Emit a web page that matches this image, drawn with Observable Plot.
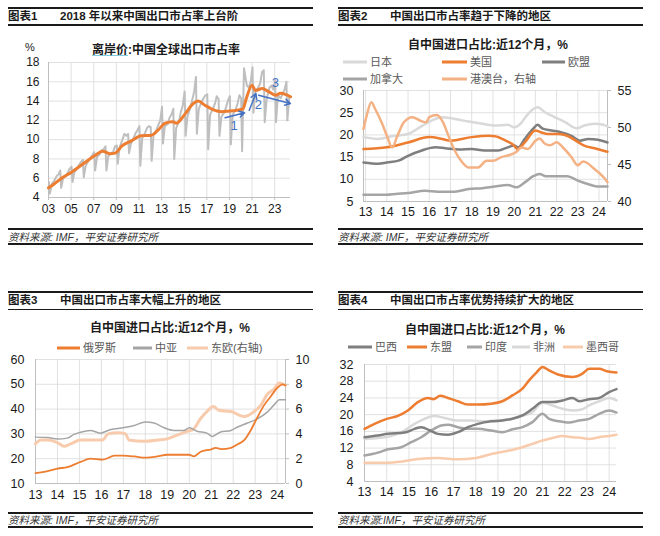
<!DOCTYPE html>
<html><head><meta charset="utf-8">
<script src="https://cdn.jsdelivr.net/npm/d3@7"></script>
<script src="https://cdn.jsdelivr.net/npm/@observablehq/plot@0.6"></script>
<style>
html,body{margin:0;padding:0;background:#fff;}
#root{position:relative;width:660px;height:536px;overflow:hidden;font-family:"Liberation Sans","Noto Sans CJK SC",sans-serif;color:#1a1a1a;}
.rule{position:absolute;height:1.6px;background:#1a1a1a;}
.t{position:absolute;white-space:nowrap;line-height:1;}
.hdr{font-weight:bold;font-size:11.5px;transform:translateY(-50%);}
.ct{font-weight:bold;font-size:12px;transform:translate(-50%,-50%);}
.src{font-style:italic;font-size:10.5px;color:#333;transform:translateY(-50%);}
.leg{font-size:11px;color:#595959;transform:translateY(-50%);}
.sw{position:absolute;height:3px;transform:translateY(-50%);}
#root svg{position:absolute;}
</style></head><body><div id="root"></div>
<script>
// ================= DATA =================
const figLabels = ["图表1", "图表2", "图表3", "图表4"];
const headers = ["2018 年以来中国出口市占率上台阶", "中国出口市占率趋于下降的地区", "中国出口市占率大幅上升的地区", "中国出口市占率优势持续扩大的地区"];
const sources = ["资料来源: IMF，平安证券研究所", "资料来源: IMF，平安证券研究所", "资料来源: IMF，平安证券研究所", "资料来源:IMF，平安证券研究所"];
const p1TitleMarked = "离岸价";
const p1TitleRest = ":中国全球出口市占率";
const p1Unit = "%";
const importTitle = "自中国进口占比:近12个月，%";

// Panel 1
const p1YTicks = [4, 6, 8, 10, 12, 14, 16, 18];
const p1XTicks = [2003, 2005, 2007, 2009, 2011, 2013, 2015, 2017, 2019, 2021, 2023];
const p1Orange = [[2003.0,5.0],[2003.5,5.4],[2004.1,5.95],[2005.0,6.6],[2006.2,7.6],[2007.1,8.35],[2007.8,8.8],[2008.4,8.55],[2008.9,8.6],[2009.5,9.35],[2010.3,9.85],[2011.2,10.4],[2012.1,10.45],[2012.7,11.0],[2013.3,11.7],[2014.0,11.85],[2014.3,11.7],[2015.1,12.7],[2015.8,13.75],[2016.25,14.0],[2016.8,13.6],[2017.4,13.2],[2018.3,12.9],[2018.9,12.95],[2019.65,13.05],[2020.2,13.2],[2020.5,14.3],[2021.0,15.65],[2021.3,15.1],[2021.9,15.3],[2022.5,14.95],[2023.1,14.6],[2023.5,14.8],[2023.95,14.7],[2024.4,14.45]];
const p1GrayMonths = [0.04, 0.12, 0.29, 0.54, 0.71, 0.88];
const p1GrayByYear = [
  [2003, [5.6, 4.4, 5.4, 5.8, 6.2, 6.4]],
  [2004, [6.8, 5.0, 6.0, 6.2, 6.6, 7.0]],
  [2005, [7.2, 5.6, 6.6, 7.0, 7.4, 7.7]],
  [2006, [7.9, 6.1, 7.3, 7.8, 8.1, 8.4]],
  [2007, [8.7, 6.8, 8.2, 8.5, 8.9, 9.0]],
  [2008, [9.3, 6.8, 8.3, 8.6, 8.7, 9.3]],
  [2009, [9.4, 7.5, 9.2, 10.0, 10.6, 10.4]],
  [2010, [10.6, 8.6, 9.6, 10.2, 10.7, 11.0]],
  [2011, [11.4, 7.3, 10.2, 10.7, 11.2, 11.4]],
  [2012, [11.3, 7.8, 10.5, 11.0, 11.5, 12.0]],
  [2013, [13.4, 9.6, 11.4, 11.6, 12.3, 12.6]],
  [2014, [13.2, 8.0, 11.2, 11.9, 12.9, 13.6]],
  [2015, [15.0, 10.4, 12.4, 13.3, 14.1, 15.0]],
  [2016, [16.5, 10.6, 13.2, 13.9, 14.3, 14.6]],
  [2017, [14.7, 9.0, 12.6, 13.2, 13.7, 14.5]],
  [2018, [14.2, 10.4, 12.4, 12.8, 13.4, 14.1]],
  [2019, [14.5, 9.5, 12.6, 13.1, 13.7, 14.6]],
  [2020, [14.3, 8.8, 17.4, 15.6, 15.4, 16.0]],
  [2021, [17.5, 12.8, 15.0, 15.4, 15.8, 17.0]],
  [2022, [17.2, 11.8, 14.2, 15.4, 15.6, 15.2]],
  [2023, [16.2, 11.8, 14.6, 14.3, 14.8, 15.2]],
  [2024, [16.0, 12.0, 14.4]]
];
const p1Arrows = [
  {x1: 2018.62, y1: 12.26, x2: 2020.34, y2: 12.78},
  {x1: 2020.75, y1: 13.05, x2: 2021.34, y2: 14.78},
  {x1: 2021.58, y1: 14.6, x2: 2024.39, y2: 13.74}
];
const p1ArrowLabels = [
  {x: 2019.42, y: 11.45, text: "1"},
  {x: 2021.55, y: 13.6, text: "2"},
  {x: 2023.06, y: 15.9, text: "3"}
];

// Panel 2
const p2Names = ["日本", "美国", "欧盟", "加拿大", "港澳台，右轴"];
const p2LeftTicks = [5, 10, 15, 20, 25, 30];
const p2RightTicks = [40, 45, 50, 55];
const yearTicks = [2013, 2014, 2015, 2016, 2017, 2018, 2019, 2020, 2021, 2022, 2023, 2024];
const p2Japan = [[2012.9,19.5],[2013.6,19.1],[2014.25,19.7],[2015.0,20.2],[2015.55,21.7],[2016.1,23.2],[2016.6,24.0],[2017.2,23.6],[2017.85,23.0],[2018.5,22.5],[2019.1,22.1],[2019.7,22.3],[2020.0,21.7],[2020.3,22.5],[2020.65,24.7],[2021.1,26.2],[2021.45,25.1],[2021.9,24.0],[2022.4,22.9],[2022.95,21.5],[2023.3,22.1],[2023.8,22.5],[2024.2,22.3],[2024.4,21.9]];
const p2US = [[2012.9,16.8],[2014.0,17.2],[2015.0,18.3],[2016.0,19.5],[2016.6,19.1],[2017.0,18.7],[2018.0,19.5],[2018.8,19.8],[2019.1,19.7],[2019.6,18.7],[2020.0,17.6],[2020.15,16.8],[2020.5,18.3],[2021.0,21.0],[2021.25,20.6],[2021.6,20.2],[2022.1,20.2],[2022.5,19.8],[2022.9,18.7],[2023.3,17.6],[2023.8,17.0],[2024.4,16.2]];
const p2EU = [[2012.9,13.8],[2013.6,13.5],[2014.0,13.8],[2014.55,14.2],[2015.0,15.3],[2015.65,16.5],[2016.3,17.2],[2016.75,17.0],[2017.4,16.7],[2018.0,16.8],[2018.6,16.5],[2019.25,16.5],[2019.7,17.2],[2020.0,17.6],[2020.2,17.2],[2020.5,19.1],[2020.9,21.4],[2021.1,22.3],[2021.35,21.4],[2021.75,21.0],[2022.2,20.6],[2022.7,19.8],[2023.1,18.7],[2023.5,19.1],[2023.95,18.9],[2024.4,18.3]];
const p2Canada = [[2012.9,6.5],[2014.0,6.5],[2014.4,6.7],[2015.0,6.9],[2015.8,7.4],[2016.4,7.2],[2017.2,7.2],[2017.85,7.8],[2018.5,8.0],[2019.1,8.4],[2019.7,8.7],[2020.1,8.2],[2020.5,9.3],[2020.9,10.7],[2021.2,11.2],[2021.5,10.7],[2022.1,10.7],[2022.5,10.7],[2023.0,9.7],[2023.5,8.9],[2023.9,8.4],[2024.4,8.4]];
const p2HKMOTW = [[2012.9,49.8],[2013.05,51.6],[2013.27,53.4],[2013.45,52.5],[2013.75,50.7],[2014.0,48.9],[2014.25,47.3],[2014.5,48.9],[2014.8,50.7],[2015.2,51.4],[2015.6,50.9],[2015.85,50.7],[2016.0,51.4],[2016.35,51.7],[2016.65,50.7],[2016.9,48.9],[2017.2,46.9],[2017.5,45.5],[2017.85,44.6],[2018.3,44.6],[2018.7,45.5],[2019.0,45.5],[2019.4,46.0],[2019.9,46.4],[2020.1,46.7],[2020.35,47.3],[2020.65,47.1],[2021.0,48.2],[2021.2,48.5],[2021.45,47.8],[2021.7,47.6],[2022.0,48.0],[2022.3,47.3],[2022.7,46.0],[2023.0,44.9],[2023.25,45.4],[2023.45,45.2],[2023.7,44.6],[2023.95,44.0],[2024.27,43.1],[2024.4,42.6]];

// Panel 3
const p3Names = ["俄罗斯", "中亚", "东欧(右轴)"];
const p3LeftTicks = [10, 20, 30, 40, 50, 60];
const p3RightTicks = [0, 2, 4, 6, 8, 10];
const p3Russia = [[2013.0,14.2],[2013.55,15.0],[2014.0,16.0],[2014.45,16.6],[2015.05,18.7],[2015.5,20.0],[2016.05,19.6],[2016.6,21.2],[2017.0,21.2],[2017.5,20.9],[2018.0,20.4],[2018.55,20.9],[2019.0,21.6],[2019.55,21.6],[2020.0,21.6],[2020.2,20.9],[2020.5,22.7],[2021.0,23.8],[2021.2,24.4],[2021.45,23.9],[2021.9,24.4],[2022.2,25.8],[2022.5,27.5],[2022.8,31.5],[2023.05,35.8],[2023.4,41.5],[2023.7,45.0],[2024.0,48.5],[2024.25,50.0],[2024.38,49.6]];
const p3CentralAsia = [[2013.0,28.7],[2013.55,28.5],[2014.0,27.9],[2014.45,28.3],[2014.75,29.8],[2015.05,30.7],[2015.5,31.4],[2015.95,30.3],[2016.4,31.7],[2017.0,32.5],[2017.5,33.4],[2018.0,34.8],[2018.4,34.4],[2018.85,32.5],[2019.3,31.4],[2019.75,31.4],[2020.0,32.5],[2020.35,31.1],[2020.8,30.3],[2021.05,29.0],[2021.4,30.7],[2021.9,31.4],[2022.2,32.8],[2022.65,34.4],[2023.1,36.1],[2023.55,38.8],[2023.9,42.1],[2024.1,43.8],[2024.38,43.8]];
const p3EastEurope = [[2013.0,3.2],[2013.25,3.5],[2013.55,3.5],[2014.0,3.3],[2014.3,3.0],[2014.6,3.2],[2015.05,3.5],[2015.5,3.5],[2016.05,3.5],[2016.3,4.0],[2016.75,4.1],[2017.1,4.0],[2017.25,3.5],[2017.95,3.4],[2018.55,3.5],[2019.0,3.6],[2019.45,3.9],[2019.9,4.2],[2020.2,4.4],[2020.5,5.2],[2020.8,5.8],[2021.1,6.2],[2021.35,5.9],[2021.9,5.8],[2022.5,5.4],[2022.95,5.8],[2023.25,6.3],[2023.55,7.2],[2023.85,7.6],[2024.1,8.1],[2024.38,7.9]];

// Panel 4
const p4Names = ["巴西", "东盟", "印度", "非洲", "墨西哥"];
const p4Ticks = [4, 8, 12, 16, 20, 24, 28, 32];
const p4Brazil = [[2013.0,14.6],[2013.6,15.0],[2014.05,15.4],[2014.8,15.7],[2015.25,16.6],[2015.55,17.0],[2015.95,16.2],[2016.3,15.4],[2016.75,15.2],[2017.2,15.8],[2017.65,17.0],[2018.1,17.8],[2018.7,18.4],[2019.2,18.6],[2019.65,19.0],[2020.1,19.8],[2020.55,21.4],[2021.0,23.0],[2021.45,23.0],[2021.9,23.4],[2022.35,24.0],[2022.65,23.2],[2023.1,23.7],[2023.55,24.0],[2024.0,25.4],[2024.33,26.1]];
const p4ASEAN = [[2013.0,16.6],[2013.45,17.8],[2014.0,19.0],[2014.5,19.7],[2014.95,21.0],[2015.4,23.0],[2015.85,24.0],[2016.1,23.7],[2016.4,24.5],[2016.75,24.0],[2017.2,23.2],[2017.65,22.4],[2018.1,22.4],[2018.7,22.6],[2019.2,23.2],[2019.65,24.6],[2020.1,26.2],[2020.4,28.2],[2020.75,30.2],[2021.0,31.4],[2021.3,30.6],[2021.7,29.6],[2022.35,29.0],[2022.8,29.8],[2023.1,31.0],[2023.55,31.0],[2023.9,30.4],[2024.33,30.1]];
const p4India = [[2013.0,10.2],[2013.6,10.9],[2014.05,11.7],[2014.65,12.2],[2015.1,13.4],[2015.55,14.6],[2016.0,16.2],[2016.45,17.4],[2016.75,17.6],[2017.2,17.0],[2017.65,16.6],[2018.1,16.6],[2018.7,16.2],[2019.2,15.8],[2019.65,16.5],[2020.1,17.0],[2020.55,18.2],[2021.0,20.2],[2021.3,19.0],[2021.75,18.4],[2022.2,18.1],[2022.65,18.6],[2023.1,19.0],[2023.55,20.2],[2024.0,21.0],[2024.33,20.5]];
const p4Africa = [[2013.0,14.2],[2013.6,14.4],[2014.2,14.9],[2014.8,16.2],[2015.25,17.8],[2015.7,19.0],[2016.15,19.7],[2016.6,19.2],[2017.2,18.6],[2017.8,18.6],[2018.4,18.4],[2019.0,18.6],[2019.65,19.0],[2020.1,19.7],[2020.55,20.6],[2021.0,22.9],[2021.45,22.2],[2021.9,21.4],[2022.35,21.0],[2022.8,21.3],[2023.1,22.2],[2023.55,23.2],[2024.0,24.0],[2024.33,23.4]];
const p4Mexico = [[2013.0,8.5],[2013.9,8.5],[2014.7,8.8],[2015.4,9.4],[2016.3,9.6],[2017.2,9.3],[2018.0,9.6],[2018.7,10.6],[2019.5,11.4],[2020.1,12.2],[2020.55,13.0],[2021.0,13.8],[2021.45,14.4],[2021.9,14.9],[2022.35,14.6],[2022.8,14.4],[2023.1,14.2],[2023.55,14.6],[2024.0,14.9],[2024.33,15.2]];

// ================= LAYOUT / STYLE =================
const FONT = '"Liberation Sans","Noto Sans CJK SC",sans-serif';
const C = {orange: "#ED7D31", lorange: "#F4B183", pale: "#F8CBAD", dgray: "#7F7F7F", mgray: "#A5A5A5", lgray: "#D9D9D9", p1gray: "#BFBFBF", blue: "#4472C4", grid: "#D9D9D9", axis: "#BFBFBF"};
const root = document.getElementById("root");

function div(cls, left, top, text, extra) {
  const d = document.createElement("div");
  d.className = cls;
  d.style.left = left + "px";
  d.style.top = top + "px";
  if (text != null) d.textContent = text;
  if (extra) Object.assign(d.style, extra);
  root.appendChild(d);
  return d;
}
function rule(left, top, width) { div("rule", left, top, null, {width: width + "px"}); }

// panel frames (header + footer)
const frames = [
  {x: 8, hTop: 7, hTitle: 16.5, hBot: 24, fTop: 228, fText: 236.5, fBot: 243},
  {x: 338, hTop: 7, hTitle: 16.5, hBot: 24, fTop: 228, fText: 236.5, fBot: 243},
  {x: 8, hTop: 291, hTitle: 301, hBot: 308.5, fTop: 512, fText: 519.5, fBot: 526},
  {x: 338, hTop: 291, hTitle: 301, hBot: 308.5, fTop: 512, fText: 519.5, fBot: 526}
];
frames.forEach((f, i) => {
  rule(f.x, f.hTop, 305);
  div("t hdr", f.x, f.hTitle, figLabels[i]);
  div("t hdr", f.x + 52, f.hTitle, headers[i]);
  rule(f.x, f.hBot, 305);
  rule(f.x, f.fTop, 305);
  div("t src", f.x, f.fText, sources[i]);
  rule(f.x, f.fBot, 305);
});

// chart titles
const t1 = div("t ct", 166, 50, null);
const u = document.createElement("span");
u.textContent = p1TitleMarked;
u.style.textDecoration = "underline";
u.style.textDecorationColor = "#7FCFE0";
t1.appendChild(u);
t1.appendChild(document.createTextNode(p1TitleRest));
div("t", 25, 41.5, p1Unit, {fontSize: "11px"});
div("t ct", 488, 45, importTitle);
div("t ct", 170, 328, importTitle);
div("t ct", 485, 330, importTitle);

// legends
function legendItem(x0, x1, y, color, name) {
  div("sw", x0, y, null, {width: (x1 - x0) + "px", background: color});
  div("t leg", x1 + 3, y, name);
}
const p2Colors = [C.lgray, C.orange, C.dgray, C.mgray, C.lorange];
const p2LegPos = [[343, 367, 62], [442, 467, 62], [542, 565, 62], [343, 367, 79], [442, 467, 79]];
p2Names.forEach((n, i) => legendItem(p2LegPos[i][0], p2LegPos[i][1], p2LegPos[i][2], p2Colors[i], n));
const p3Colors = [C.orange, C.mgray, C.pale];
const p3LegPos = [[57, 80, 348], [133, 152, 348], [187, 208, 348]];
p3Names.forEach((n, i) => legendItem(p3LegPos[i][0], p3LegPos[i][1], p3LegPos[i][2], p3Colors[i], n));
const p4Colors = [C.dgray, C.orange, C.mgray, C.lgray, C.pale];
const p4LegPos = [[348, 372, 347], [407, 427, 347], [467, 482, 347], [512, 530, 347], [563, 583, 347]];
p4Names.forEach((n, i) => legendItem(p4LegPos[i][0], p4LegPos[i][1], p4LegPos[i][2], p4Colors[i], n));

// ================= PLOTS =================
const fmtYY = d => String(Math.round(d) % 100).padStart(2, "0");
const X = d => d[0];

function chart(o) {
  const marks = [
    Plot.gridX(o.xTicks, {stroke: C.grid, strokeOpacity: 1, strokeWidth: 0.8}),
    Plot.gridY(o.yTicks, {stroke: C.grid, strokeOpacity: 1, strokeWidth: 0.8}),
    Plot.ruleX([o.xDomain[0]], {stroke: C.axis, strokeWidth: 1}),
    Plot.ruleY([o.yDomain[0]], {stroke: C.axis, strokeWidth: 1}),
    Plot.axisY(o.yTicks, {anchor: "left", tickSize: 0, tickPadding: o.yPad, fontSize: o.fs, label: null, fill: "#1a1a1a"}),
    Plot.axisX(o.xTicks, {anchor: "bottom", tickSize: o.xTickSize, tickPadding: o.xPad, fontSize: o.fs, tickFormat: fmtYY, label: null, stroke: C.axis, fill: "#1a1a1a"})
  ];
  if (o.right) {
    marks.push(Plot.ruleX([o.xDomain[1]], {stroke: C.axis, strokeWidth: 1}));
    marks.push(Plot.axisY(o.right.ticks.map(o.right.map), {anchor: "right", tickSize: 3, tickPadding: 7, fontSize: o.fs, label: null, stroke: C.axis, fill: "#1a1a1a", tickFormat: v => Math.round(o.right.map.invert(v))}));
  }
  const svg = Plot.plot({
    width: o.width, height: o.height,
    marginLeft: o.ml, marginRight: o.mr, marginTop: o.mt, marginBottom: o.mb,
    style: {fontFamily: FONT, fontSize: o.fs + "px", color: "#1a1a1a", background: "transparent", overflow: "visible"},
    x: {domain: o.xDomain, label: null},
    y: {domain: o.yDomain, label: null},
    marks: marks.concat(o.marks)
  });
  svg.style.left = o.left + "px";
  svg.style.top = o.top + "px";
  root.appendChild(svg);
}
function line(data, color, w, map) {
  return Plot.line(data, {x: X, y: map ? (d => map(d[1])) : (d => d[1]), stroke: color, strokeWidth: w, curve: "monotone-x", strokeLinejoin: "round", strokeLinecap: "round"});
}

// Panel 1
const p1Gray = p1GrayByYear.flatMap(([yr, vals]) => vals.map((v, k) => [yr + p1GrayMonths[k], v]));
chart({
  left: 0, top: 50, width: 310, height: 175, ml: 48, mr: 20, mt: 12, mb: 28, fs: 12,
  xDomain: [2003, 2024.4], yDomain: [4, 18], xTicks: p1XTicks, yTicks: p1YTicks,
  yPad: 9, xPad: 4, xTickSize: 3,
  marks: [
    Plot.line(p1Gray, {x: X, y: d => d[1], stroke: C.p1gray, strokeWidth: 2, strokeLinejoin: "round"}),
    line(p1Orange, C.orange, 3),
    Plot.arrow(p1Arrows, {x1: "x1", y1: "y1", x2: "x2", y2: "y2", stroke: C.blue, strokeWidth: 1.5, headLength: 6}),
    Plot.text(p1ArrowLabels, {x: "x", y: "y", text: "text", fill: C.blue, fontSize: 13})
  ]
});

// Panel 2
const p2Map = d3.scaleLinear().domain([40, 55]).range([5, 30]);
chart({
  left: 330, top: 80, width: 320, height: 145, ml: 33, mr: 43, mt: 10, mb: 24, fs: 12.5,
  xDomain: [2012.9, 2024.4], yDomain: [5, 30], xTicks: yearTicks, yTicks: p2LeftTicks,
  yPad: 10, xPad: 6, xTickSize: 0,
  right: {ticks: p2RightTicks, map: p2Map},
  marks: [
    line(p2Canada, C.mgray, 2.5),
    line(p2Japan, C.lgray, 2.5),
    line(p2EU, C.dgray, 2.5),
    line(p2US, C.orange, 2.5),
    line(p2HKMOTW, C.lorange, 2.5, p2Map)
  ]
});

// Panel 3
const p3Map = d3.scaleLinear().domain([0, 10]).range([10, 60]);
chart({
  left: 0, top: 352, width: 320, height: 155, ml: 35, mr: 35, mt: 7, mb: 24, fs: 12.5,
  xDomain: [2013, 2024.38], yDomain: [10, 60], xTicks: yearTicks, yTicks: p3LeftTicks,
  yPad: 11, xPad: 7, xTickSize: 0,
  right: {ticks: p3RightTicks, map: p3Map},
  marks: [
    line(p3EastEurope, C.pale, 3, p3Map),
    line(p3CentralAsia, C.mgray, 1.5),
    line(p3Russia, C.orange, 1.8)
  ]
});

// Panel 4
chart({
  left: 330, top: 356, width: 320, height: 150, ml: 34, mr: 34, mt: 8, mb: 25, fs: 12.5,
  xDomain: [2013, 2024.33], yDomain: [4, 32], xTicks: yearTicks, yTicks: p4Ticks,
  yPad: 11, xPad: 6, xTickSize: 0,
  marks: [
    line(p4Mexico, C.pale, 2.5),
    line(p4India, C.mgray, 2.5),
    line(p4Africa, C.lgray, 2.5),
    line(p4Brazil, C.dgray, 2.5),
    line(p4ASEAN, C.orange, 2.5)
  ]
});
</script></body></html>
